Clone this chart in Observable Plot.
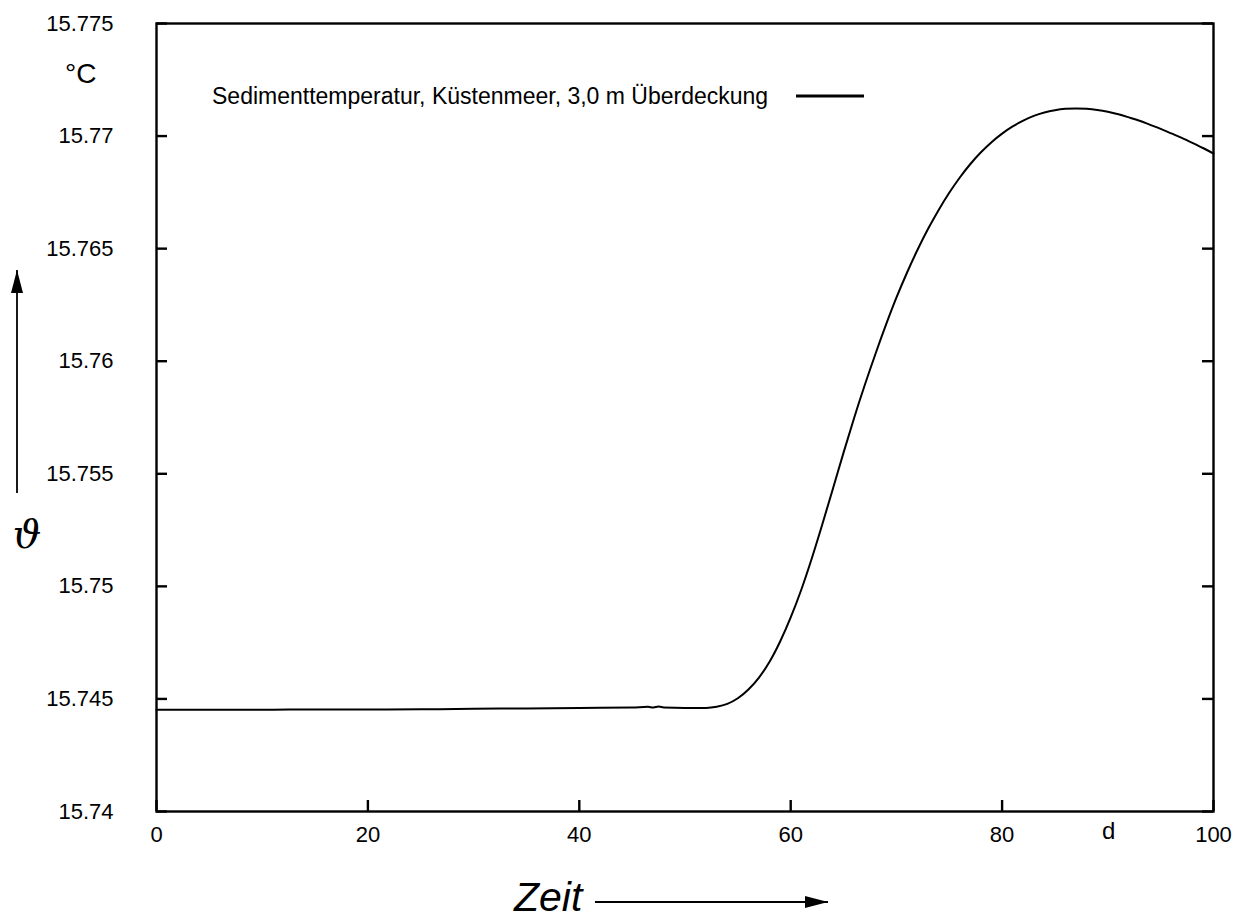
<!DOCTYPE html>
<html>
<head>
<meta charset="utf-8">
<script src="https://cdn.jsdelivr.net/npm/d3@7"></script>
<script src="https://cdn.jsdelivr.net/npm/@observablehq/plot@0.6"></script>
<style>
  html, body { margin: 0; padding: 0; background: #fff; }
  #chart { position: relative; width: 1234px; height: 915px; }
</style>
</head>
<body>
<div id="chart"></div>
<script>
const days = [0, 5, 10, 15, 20, 25, 30, 35, 40, 45, 46.5, 47, 47.5, 48, 50, 52, 53, 54, 55, 56, 57, 58, 59, 60,
  61, 62, 63, 64, 65, 66, 67, 68, 69, 70, 71, 72, 73, 74, 75, 76, 77, 78, 79, 80,
  81, 82, 83, 84, 85, 86, 87, 88, 89, 90, 91, 92, 93, 94, 95, 96, 97, 98, 99, 100];
const temps = [15.74452, 15.74452, 15.74452, 15.74453, 15.74453, 15.74454, 15.74456, 15.74458, 15.74460, 15.74462,
  15.74465, 15.74462, 15.74466, 15.74462, 15.74460, 15.74460, 15.74465, 15.74478, 15.74503, 15.74542,
  15.74595, 15.74665, 15.74755, 15.74862, 15.74985, 15.75125, 15.75277, 15.75435, 15.75594, 15.75748,
  15.75893, 15.76030, 15.76160, 15.76282, 15.76393, 15.76495, 15.76588, 15.76672, 15.76748, 15.76816,
  15.76876, 15.76928, 15.76973, 15.77011, 15.77043, 15.77069, 15.77090, 15.77105, 15.77115, 15.77121,
  15.77123, 15.77121, 15.77116, 15.77108, 15.77097, 15.77083, 15.77068, 15.77050, 15.77032, 15.77012,
  15.76992, 15.76970, 15.76947, 15.76922];
const xTicks = [0, 20, 40, 60, 80, 100];
const yTicks = [15.74, 15.745, 15.75, 15.755, 15.76, 15.765, 15.77, 15.775];
const yTickLabels = ["15.74", "15.745", "15.75", "15.755", "15.76", "15.765", "15.77", "15.775"];
const seriesName = "Sedimenttemperatur, Küstenmeer, 3,0 m Überdeckung";

const data = days.map((d, i) => ({day: d, temp: temps[i]}));

const W = 1234, H = 915;
const mL = 156, mR = 21, mT = 23, mB = 104;
const pw = W - mL - mR, ph = H - mT - mB;
const tickLen = 11;
const font = "Liberation Sans, Arial, Helvetica, sans-serif";

const chart = Plot.plot({
  width: W,
  height: H,
  marginLeft: mL,
  marginRight: mR,
  marginTop: mT,
  marginBottom: mB,
  style: {fontFamily: font, fontSize: "22px", color: "#000", background: "#fff"},
  x: {domain: [0, 100], ticks: xTicks},
  y: {domain: [15.74, 15.775], ticks: yTicks},
  marks: [
    Plot.axisX(xTicks, {tickSize: 0, tickPadding: 15, label: null, fontSize: 22, tickFormat: d => String(d)}),
    Plot.axisY(yTicks, {tickSize: 0, tickPadding: 43, label: null, fontSize: 22, tickFormat: (d, i) => yTickLabels[i]}),
    Plot.tickY(yTicks, {y: d => d, insetRight: pw - tickLen, stroke: "#000", strokeWidth: 2.4}),
    Plot.tickY(yTicks, {y: d => d, insetLeft: pw - tickLen, stroke: "#000", strokeWidth: 2.4}),
    Plot.tickX(xTicks, {x: d => d, insetTop: ph - tickLen, stroke: "#000", strokeWidth: 2.4}),
    Plot.line(data, {x: "day", y: "temp", stroke: "#000", strokeWidth: 2, curve: "monotone-x"}),
    Plot.frame({stroke: "#000", strokeWidth: 2.4})
  ]
});

document.getElementById("chart").appendChild(chart);

// annotations
const svg = d3.select(chart);
const defs = svg.append("defs");
defs.append("marker").attr("id", "ah").attr("viewBox", "0 0 10 10").attr("refX", 10).attr("refY", 5)
  .attr("markerUnits", "userSpaceOnUse").attr("markerWidth", 23).attr("markerHeight", 12)
  .attr("preserveAspectRatio", "none").attr("orient", "auto")
  .append("path").attr("d", "M0,0 L10,5 L0,10 Z").attr("fill", "#000");

const ann = svg.append("g").attr("font-family", font).attr("fill", "#000").attr("text-anchor", "start");
// legend
ann.append("text").attr("x", 212).attr("y", 96).attr("dominant-baseline", "central")
  .attr("text-anchor", "start").attr("font-size", 23).text(seriesName);
ann.append("line").attr("x1", 796).attr("x2", 864).attr("y1", 96).attr("y2", 96)
  .attr("stroke", "#000").attr("stroke-width", 2.8);
// unit labels
ann.append("text").attr("x", 65).attr("y", 83).attr("text-anchor", "start")
  .attr("font-size", 28).text("°C");
ann.append("text").attr("x", 1102).attr("y", 839).attr("text-anchor", "start")
  .attr("font-size", 24).text("d");
// y axis arrow and symbol
ann.append("line").attr("x1", 17).attr("x2", 17).attr("y1", 493).attr("y2", 270)
  .attr("stroke", "#000").attr("stroke-width", 1.8).attr("marker-end", "url(#ah)");
ann.append("text").attr("x", 27).attr("y", 534).attr("text-anchor", "middle").attr("dominant-baseline", "central")
  .attr("font-family", "DejaVu Serif, serif").attr("font-style", "italic").attr("font-size", 40).text("ϑ");
// x axis label and arrow
ann.append("text").attr("x", 514).attr("y", 911).attr("text-anchor", "start")
  .attr("font-style", "italic").attr("font-size", 41).text("Zeit");
ann.append("line").attr("x1", 595).attr("x2", 828).attr("y1", 902).attr("y2", 902)
  .attr("stroke", "#000").attr("stroke-width", 1.8).attr("marker-end", "url(#ah)");
</script>
</body>
</html>
